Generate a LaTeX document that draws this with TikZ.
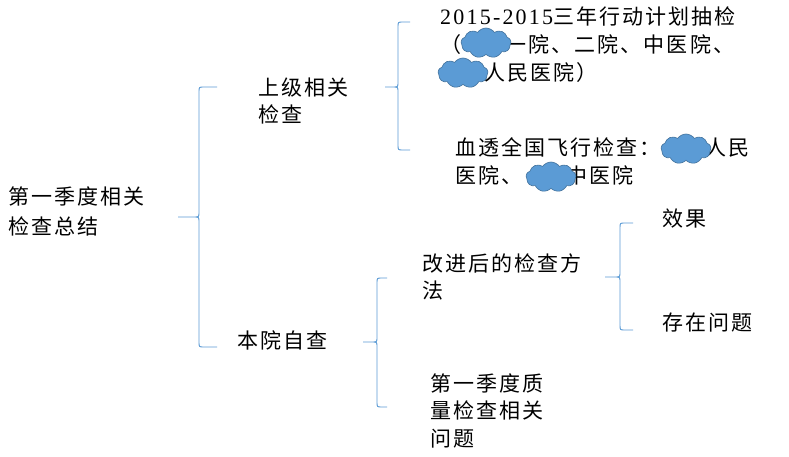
\documentclass[tikz,border=0pt]{standalone}
\usepackage{fontspec}
\setmainfont{Liberation Serif}[LetterSpace=10]
\newfontfamily\cjk{Noto Sans CJK SC}[LetterSpace=10]
\usetikzlibrary{shapes.symbols}
\definecolor{bracecol}{HTML}{5B9BD5}
\definecolor{cloudfill}{HTML}{5B9BD5}
\definecolor{cloudline}{HTML}{41719C}
% tip x, vertical x, end x, top y, mid y, bottom y
\newcommand{\mybrace}[6]{%
  \draw[bracestyle] (#3,#4) -- (#2+5,#4) .. controls (#2,#4) .. (#2,#4+5)
    -- (#2,#5-5) .. controls (#2,#5) .. (#2-5,#5) -- (#1,#5)
    -- (#2-5,#5) .. controls (#2,#5) .. (#2,#5+5)
    -- (#2,#6-5) .. controls (#2,#6) .. (#2+5,#6) -- (#3,#6);}
\begin{document}
\begin{tikzpicture}[x=1pt,y=-1pt,
  txt/.style={font=\cjk\fontsize{21}{28}\selectfont, align=left, inner sep=0pt, anchor=base west},
  bracestyle/.style={draw=bracecol, line width=0.9pt},
  cloudsh/.style={cloud, cloud puffs=9, cloud puff arc=110, aspect=1.7,
    fill=cloudfill, draw=cloudline, line width=0.6pt,
    minimum width=50pt, minimum height=30pt, inner sep=0pt}]
\useasboundingbox[fill=white] (0,0) rectangle (789,457);

% texts (anchor = baseline of the last line)
\node[txt, font=\cjk\fontsize{21}{30}\selectfont] (root) at (8,234) {第一季度相关\\检查总结};
\node[txt, font=\cjk\fontsize{21}{27}\selectfont] (upper) at (258,123) {上级相关\\检查};
\node[txt] (self) at (237,348) {本院自查};
\node[txt] (plan) at (440,81) {{\rmfamily\fontsize{22}{28}\selectfont 2015-2015}三年行动计划抽检\\（\phantom{某某}一院、二院、中医院、\\\phantom{某某}人民医院）};
\node[txt] (dial) at (455,183) {血透全国飞行检查：\phantom{某某}人民\\医院、\phantom{某某}中医院};
\node[txt, font=\cjk\fontsize{21}{27}\selectfont] (method) at (422,298) {改进后的检查方\\法};
\node[txt] (effect) at (662,226) {效果};
\node[txt] (issue) at (662,330) {存在问题};
\node[txt, font=\cjk\fontsize{21}{27.5}\selectfont] (quality) at (430,446) {第一季度质\\量检查相关\\问题};

% clouds
\node[cloudsh] (c1) at (486,43) {};
\node[cloudsh] (c2) at (463,73) {};
\node[cloudsh] (c3) at (686,149) {};
\node[cloudsh] (c4) at (551,177) {};

% braces
\mybrace{178}{199}{217}{87}{217}{347}
\mybrace{385}{398}{410}{22}{87}{150}
\mybrace{363}{377}{387}{278}{342}{407}
\mybrace{605}{620}{633}{223}{277}{330}
\end{tikzpicture}
\end{document}
